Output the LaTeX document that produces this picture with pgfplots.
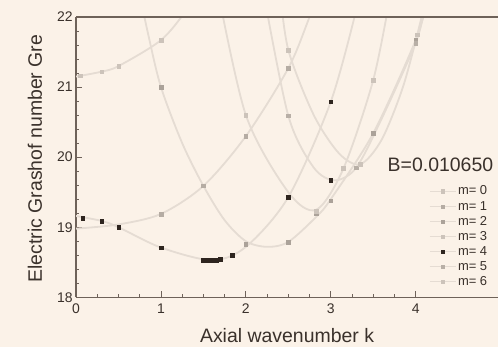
\documentclass[border=0pt]{standalone}
\usepackage{fontspec}
\setmainfont{Liberation Sans}
\usepackage{pgfplots}
\pgfplotsset{compat=1.18}
\definecolor{bg}{HTML}{FBF2E8}
\definecolor{frame}{HTML}{6E6259}
\definecolor{txt}{HTML}{3A312B}
\definecolor{curve}{HTML}{E5DCD3}
\definecolor{mlight}{HTML}{CCC3BA}
\definecolor{mmed}{HTML}{ABA299}
\definecolor{mdark}{HTML}{2E251F}
\begin{document}
\begin{tikzpicture}
\fill[bg] (-76bp,-50bp) rectangle (421.5bp,297bp);
\begin{axis}[
  scale only axis, width=421.5bp, height=280bp,
  xmin=0, xmax=4.97, ymin=18, ymax=22,
  axis x line*=bottom, axis y line*=left,
  axis line style={frame, line width=1.5bp},
  tick align=inside,
  xtick={0,1,2,3,4}, ytick={18,19,20,21,22},
  minor x tick num=3, minor y tick num=4,
  major tick length=6bp, minor tick length=3bp,
  tick style={frame, line width=0.8bp},
  /pgf/number format/assume math mode=true,
  ticklabel style={font=\fontsize{14}{14}\selectfont, text=txt},
  xticklabel style={yshift=-3bp},
  xlabel={Axial wavenumber k},
  ylabel={Electric Grashof number Gre},
  label style={font=\fontsize{19.5}{19.5}\selectfont, text=txt},
  xlabel style={at={(axis description cs:0.5,-0.1607)}, anchor=base},
  ylabel style={at={(axis description cs:-0.0973,0.495)}, anchor=center},
  legend cell align=left,
  legend style={at={(axis description cs:0.836,0.405)}, anchor=north west,
    draw=none, fill=none, inner sep=0pt, row sep=0pt,
    font=\fontsize{13}{13}\selectfont, text=txt,
    nodes={inner sep=1.5bp, text height=9.5bp, text depth=2.5bp}},
  legend image code/.code={
    \draw[curve, line width=1.5bp] (0bp,0bp) -- (26bp,0bp);
    \draw[#1] plot coordinates {(13bp,0bp)};},
]
% m = 0
\addplot[curve, line width=1.8bp, smooth, forget plot] coordinates {
 (0,21.15) (0.3,21.22) (0.5,21.3) (1,21.67) (1.3,22.1) (1.5,22.5)};
\addplot[only marks, mark=square*, mark size=1.8bp, mark options={fill=mlight, draw=mlight}] coordinates {
 (0.05,21.16) (0.3,21.22) (0.5,21.3) (1,21.67)};
\addlegendentry{m= 0}
% m = 1
\addplot[curve, line width=1.8bp, smooth, forget plot] coordinates {
 (0,18.98) (0.5,19.04) (1,19.19) (1.5,19.59) (2,20.3) (2.5,21.27) (2.75,22.0) (3,22.8)};
\addplot[only marks, mark=square*, mark size=1.8bp, mark options={fill=mmed!70!mlight, draw=mmed!70!mlight}] coordinates {
 (1,19.19) (1.5,19.59) (2,20.3) (2.5,21.27)};
\addlegendentry{m= 1}
% m = 2
\addplot[curve, line width=1.8bp, smooth, forget plot] coordinates {
 (0.7,22.6) (0.85,21.75) (1,21.0) (1.25,20.2) (1.5,19.59) (1.75,19.1) (2,18.8) (2.25,18.72) (2.5,18.79) (2.83,19.15) (3,19.4) (3.5,20.34) (4,21.67) (4.15,22.3)};
\addplot[only marks, mark=square*, mark size=1.8bp, mark options={fill=mmed, draw=mmed}] coordinates {
 (1,21.0) (2,18.76) (2.5,18.79) (2.83,19.2) (3,19.38) (3.5,20.34) (4,21.67)};
\addlegendentry{m= 2}
% m = 3
\addplot[curve, line width=1.8bp, smooth, forget plot] coordinates {
 (1.65,22.5) (2,20.6) (2.5,19.5) (2.83,19.25) (3.15,19.84) (3.5,21.1) (3.7,22.3)};
\addplot[only marks, mark=square*, mark size=1.8bp, mark options={fill=mlight, draw=mlight}] coordinates {
 (2,20.6) (2.83,19.23) (3.15,19.84) (3.5,21.1)};
\addlegendentry{m= 3}
% m = 4
\addplot[curve, line width=1.8bp, smooth, forget plot] coordinates {
 (0,19.16) (0.3,19.09) (0.5,19.0) (1,18.71) (1.6,18.53) (2,18.72) (2.5,19.43) (3,20.79) (3.3,22.1)};
\addplot[only marks, mark=square*, mark size=1.8bp, mark options={fill=mdark, draw=mdark}] coordinates {
 (0.08,19.13) (0.3,19.09) (0.5,19.0) (1,18.71) (1.5,18.53) (1.55,18.53) (1.6,18.53) (1.65,18.53) (1.7,18.54) (1.84,18.6) (2.5,19.43) (3,20.79) (3,19.67)};
\addlegendentry{m= 4}
% m = 5
\addplot[curve, line width=1.8bp, smooth, forget plot] coordinates {
 (2.2,22.4) (2.5,20.59) (2.8,19.85) (3.05,19.67) (3.3,19.85) (3.6,20.55) (4,21.63) (4.1,22.1)};
\addplot[only marks, mark=square*, mark size=1.8bp, mark options={fill=mmed!60!mlight, draw=mmed!60!mlight}] coordinates {
 (2.5,20.59) (3.3,19.85) (4,21.63)};
\addlegendentry{m= 5}
% m = 6
\addplot[curve, line width=1.8bp, smooth, forget plot] coordinates {
 (2.4,22.4) (2.5,21.53) (2.8,20.6) (3.1,20.05) (3.35,19.9) (3.6,20.25) (3.85,21.0) (4.05,21.9) (4.12,22.3)};
\addplot[only marks, mark=square*, mark size=1.8bp, mark options={fill=mlight, draw=mlight}] coordinates {
 (2.5,21.53) (3.35,19.9) (4.02,21.75)};
\addlegendentry{m= 6}
\end{axis}
\draw[frame, line width=1.5bp] (0bp,280bp) -- (421.5bp,280bp);
\node[font=\fontsize{19.5}{19.5}\selectfont, text=txt, anchor=center] at (364bp,132bp) {B=0.010650};
\pgfresetboundingbox
\useasboundingbox (-76bp,-50bp) rectangle (421.5bp,297bp);
\end{tikzpicture}
\end{document}
